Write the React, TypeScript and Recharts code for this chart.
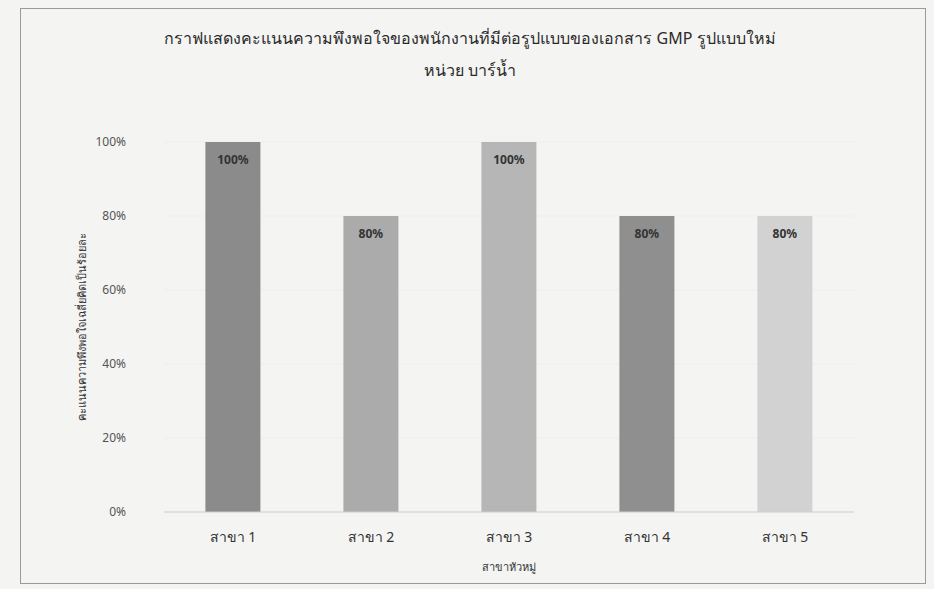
import { Bar, BarChart, Cell, LabelList, XAxis, YAxis, CartesianGrid } from "recharts";

const branches = ["สาขา 1", "สาขา 2", "สาขา 3", "สาขา 4", "สาขา 5"];
const satisfaction = [100, 80, 100, 80, 80];
const barColors = ["#8b8b8b", "#ababab", "#b6b6b6", "#8f8f8f", "#d2d2d2"];
const yTicks = [0, 20, 40, 60, 80, 100];

const titleLine1 = "กราฟแสดงคะแนนความพึงพอใจของพนักงานที่มีต่อรูปแบบของเอกสาร GMP รูปแบบใหม่";
const titleLine2 = "หน่วย บาร์น้ำ";
const yTitle = "คะแนนความพึงพอใจเฉลี่ยคิดเป็นร้อยละ";
const xTitle = "สาขาหัวหมู่";

const data = branches.map((name, i) => ({ name, value: satisfaction[i] }));

const FONT = "'Noto Sans', 'DejaVu Sans', sans-serif";

export default function App() {
  return (
    <div
      style={{
        position: "absolute",
        left: 0,
        top: 0,
        width: 934,
        height: 589,
        background: "#f4f4f3",
        fontFamily: FONT,
      }}
    >
      {/* frame round the chart object */}
      <div
        style={{
          position: "absolute",
          left: 20,
          top: 8,
          width: 906,
          height: 576,
          border: "1px solid #9a9a9a",
          boxSizing: "border-box",
        }}
      />
      <div
        style={{
          position: "absolute",
          top: 22,
          left: 0,
          width: 940,
          textAlign: "center",
          fontSize: 16,
          color: "#2a2a2a",
          lineHeight: "32px",
        }}
      >
        <div>{titleLine1}</div>
        <div>{titleLine2}</div>
      </div>
      <BarChart
        width={934}
        height={589}
        data={data}
        margin={{ top: 142, right: 80, bottom: 0, left: 50 }}
        barCategoryGap="30%"
        style={{ position: "absolute", left: 0, top: 0 }}
      >
        <CartesianGrid vertical={false} stroke="#eeeeee" />
        <XAxis
          dataKey="name"
          height={77}
          tickLine={false}
          axisLine={{ stroke: "#cfcfcf" }}
          tick={{ fill: "#333", fontSize: 14 }}
          tickMargin={14}
          label={{ value: xTitle, position: "insideBottom", offset: 18, fill: "#333", fontSize: 11 }}
        />
        <YAxis
          domain={[0, 100]}
          ticks={yTicks}
          width={114}
          tickLine={false}
          axisLine={false}
          tickFormatter={(v: number) => `${v}%`}
          tick={{ fill: "#555", fontSize: 12 }}
          tickMargin={32}
          label={{
            value: yTitle,
            angle: -90,
            position: "insideLeft",
            offset: 32,
            style: { textAnchor: "middle" },
            fill: "#333",
            fontSize: 11,
          }}
        />
        <Bar dataKey="value" isAnimationActive={false}>
          {data.map((d, i) => (
            <Cell key={d.name} fill={barColors[i]} />
          ))}
          <LabelList
            dataKey="value"
            position="insideTop"
            offset={13}
            formatter={(v: number) => `${v}%`}
            fill="#333"
            fontSize={12}
            fontWeight="bold"
          />
        </Bar>
      </BarChart>
    </div>
  );
}
